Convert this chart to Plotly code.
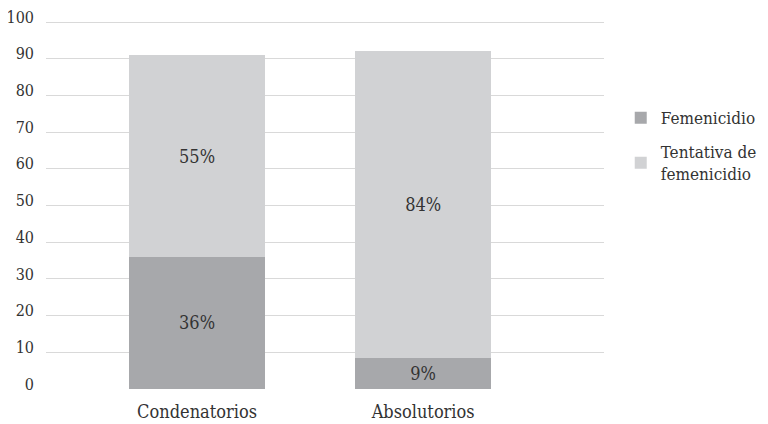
import plotly.graph_objects as go

categories = ["Condenatorios", "Absolutorios"]
femenicidio = [36, 8.5]
tentativa = [55, 83.5]
fem_labels = ["36%", "9%"]
tent_labels = ["55%", "84%"]
y_ticks = [0, 10, 20, 30, 40, 50, 60, 70, 80, 90, 100]

FONT = "DejaVu Serif Condensed, Liberation Serif, serif"
TXT = "#333333"
FS = 18

fig = go.Figure()
fig.add_trace(go.Bar(
    x=categories, y=femenicidio, name="Femenicidio", legendgroup="a",
    marker=dict(color="#a7a8ab", line=dict(width=0)),
    text=fem_labels, textposition="inside", insidetextanchor="middle",
    textangle=0, textfont=dict(family=FONT, size=FS, color=TXT),
    width=0.6,
))
fig.add_trace(go.Bar(
    x=categories, y=tentativa, name="Tentativa de<br>femenicidio", legendgroup="b",
    marker=dict(color="#d1d2d4", line=dict(width=0)),
    text=tent_labels, textposition="inside", insidetextanchor="middle",
    textangle=0, textfont=dict(family=FONT, size=FS, color=TXT),
    width=0.6,
))

fig.update_layout(
    barmode="stack",
    width=760, height=416,
    margin=dict(l=38, r=164, t=13, b=35, autoexpand=False),
    paper_bgcolor="white", plot_bgcolor="white",
    font=dict(family=FONT, size=FS, color=TXT),
    showlegend=True,
    legend=dict(
        x=1.03, y=0.785, xanchor="left", yanchor="top",
        traceorder="grouped", font=dict(family=FONT, size=17, color=TXT),
        tracegroupgap=9,
    ),
    uniformtext=dict(mode=False),
)
fig.update_xaxes(
    range=[-0.668, 1.80], showgrid=False, showline=False, zeroline=False,
    ticks="", tickfont=dict(family=FONT, size=FS, color=TXT), automargin=False,
    ticklabelstandoff=10,
)
fig.update_yaxes(
    range=[0, 100.3], tickvals=y_ticks, showgrid=True, gridcolor="#d9d9d9",
    gridwidth=1, zeroline=False, showline=False, ticks="",
    tickfont=dict(family=FONT, size=16, color=TXT),
    ticklabelstandoff=11, ticklabelshift=-5, automargin=False,
    ticklabeloverflow="allow",
)

fig.write_html("out.html")
